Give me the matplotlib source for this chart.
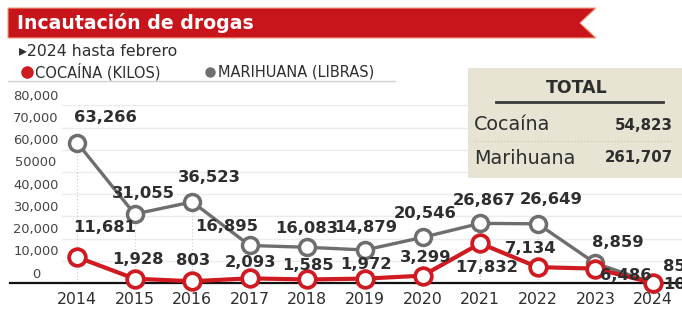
import matplotlib
matplotlib.use("Agg")
import matplotlib.pyplot as plt
from matplotlib import transforms
from matplotlib.patches import Polygon, Rectangle
from matplotlib.lines import Line2D

# ---------------- data ----------------
years = [2014, 2015, 2016, 2017, 2018, 2019, 2020, 2021, 2022, 2023, 2024]
cocaina = [11681, 1928, 803, 2093, 1585, 1972, 3299, 17832, 7134, 6486, 10]
marihuana = [63266, 31055, 36523, 16895, 16083, 14879, 20546, 26867, 26649, 8859, 85]
ytick_values = [0, 10000, 20000, 30000, 40000, 50000, 60000, 70000, 80000]
ytick_labels = ["0", "10,000", "20,000", "30,000", "40,000", "50000", "60,000", "70,000", "80,000"]
title = "Incautación de drogas"
subtitle = "\u25b82024 hasta febrero"
legend_labels = ["COCAÍNA (KILOS)", "MARIHUANA (LIBRAS)"]
total_names = ["Cocaína", "Marihuana"]
total_values = ["54,823", "261,707"]

# label offsets (pixels) -- styling only
mar_off = [(28, 25), (9, 21), (17, 24), (-23, 19), (-1, 19), (1, 22), (3, 24), (4, 23), (13, 24), (22, 21), (10, 16)]
coc_off = [(28, 30), (3, 19), (1, 21), (1, 16), (1, 14), (1, 14), (3, 18), (6, -24), (-7, 19), (30, -7), (10, -2)]

W, H = 682, 314
RED = "#cf1a21"
GRAY = "#6e6e6e"
TXT = "#2e2e2e"

fig = plt.figure(figsize=(W / 100, H / 100), dpi=100)
fig.patch.set_facecolor("white")

def fx(px):
    return px / W

def fy(py):
    return 1 - py / H

ax = fig.add_axes([0, 0, 1, 1])
ax.set_facecolor("none")
ax.axis("off")
# scale: 2014 at x=77px, 2024 at x=653px ; y=0 at 283px, 2.22 px per 1000
xs = 57.6
ax.set_xlim(2014 - 77 / xs, 2024 + (W - 653) / xs)
ys = 2.22 / 1000
ax.set_ylim(-(H - 283) / ys, 283 / ys)

# gridlines
for v in ytick_values:
    ax.axhline(v, xmin=fx(62), xmax=1, color="#ececec", lw=1, zorder=0)

# vertical dotted guides
ax.vlines(years[:-1], 0, marihuana[:-1], colors="#c8c8c8", linestyles=(0, (1, 2)), lw=0.8, zorder=1)

# baseline
ax.plot([ax.get_xlim()[0] + 10 / xs, ax.get_xlim()[1]], [0, 0], color="#111111", lw=1.6, zorder=2)

# lines
ax.plot(years, marihuana, color=GRAY, lw=2.4, marker="o", ms=11.5, mfc="white",
        mec=GRAY, mew=2.5, zorder=4, clip_on=False)
ax.plot(years, cocaina, color=RED, lw=3.0, marker="o", ms=12, mfc="white",
        mec=RED, mew=2.7, zorder=5, clip_on=False)

# data labels
for series, offs in ((marihuana, mar_off), (cocaina, coc_off)):
    for i, (x, v) in enumerate(zip(years, series)):
        dx, dy = offs[i]
        ax.annotate(f"{v:,}", (x, v), xytext=(dx, dy), textcoords="offset pixels",
                    ha="left" if i == len(years) - 1 else "center", va="center",
                    fontsize=11.8, fontweight="bold", color=TXT, zorder=6, annotation_clip=False)

# y tick labels (sit above their gridline)
blend = transforms.blended_transform_factory(fig.transFigure, ax.transData)
tr = transforms.offset_copy(blend, fig=fig, x=0, y=9, units="dots")
for v, lab in zip(ytick_values, ytick_labels):
    ax.text(fx(36), v, lab, transform=tr, ha="center", va="center", fontsize=9.4, color="#444444")

# year labels
blend_x = transforms.blended_transform_factory(ax.transData, fig.transFigure)
for y in years:
    ax.text(y, fy(300), str(y), transform=blend_x, ha="center", va="center", fontsize=11.3, color=TXT)

# title banner
banner = Polygon([(fx(8), fy(8)), (fx(596), fy(8)), (fx(580), fy(23)), (fx(596), fy(38)), (fx(8), fy(38))],
                 closed=True, transform=fig.transFigure, facecolor="#c8151c", edgecolor="#f2a07f", lw=0.8)
fig.add_artist(banner)
fig.text(fx(17), fy(23), title, ha="left", va="center", fontsize=13.6, fontweight="bold", color="white")

# subtitle
fig.text(fx(19), fy(52), subtitle, ha="left", va="center", fontsize=11.3, color=TXT)

# legend
fig.add_artist(Line2D([fx(27)], [fy(72)], marker="o", ms=8, color=RED, transform=fig.transFigure))
fig.text(fx(35), fy(72), legend_labels[0], ha="left", va="center", fontsize=10.5, color=TXT)
fig.add_artist(Line2D([fx(210)], [fy(72)], marker="o", ms=6.5, color=GRAY, transform=fig.transFigure))
fig.text(fx(218), fy(72), legend_labels[1], ha="left", va="center", fontsize=10.5, color=TXT)
fig.add_artist(Line2D([fx(8), fx(395)], [fy(81), fy(81)], color="#cfd2d6", lw=1, transform=fig.transFigure))

# total box
fig.add_artist(Rectangle((fx(468), fy(178)), fx(682) - fx(468), fy(68) - fy(178), transform=fig.transFigure,
                         facecolor="#e7e4d4", edgecolor="none", zorder=3))
fig.text(fx(577), fy(88), "TOTAL", ha="center", va="center", fontsize=12.5, fontweight="bold", color=TXT, zorder=4)
fig.add_artist(Line2D([fx(496), fx(663)], [fy(102), fy(102)], color="#3a3a3a", lw=2, transform=fig.transFigure, zorder=4))
fig.add_artist(Line2D([fx(474), fx(672)], [fy(141), fy(141)], color="#c9c5b3", lw=0.8, ls=(0, (1, 2)),
                      transform=fig.transFigure, zorder=4))
for py, name, val in zip([125, 158], total_names, total_values):
    fig.text(fx(474), fy(py), name, ha="left", va="center", fontsize=13.8, color=TXT, zorder=4)
    fig.text(fx(673), fy(py), val, ha="right", va="center", fontsize=10.8, fontweight="bold", color=TXT, zorder=4)

fig.savefig("out.png", dpi=100, facecolor="white")
